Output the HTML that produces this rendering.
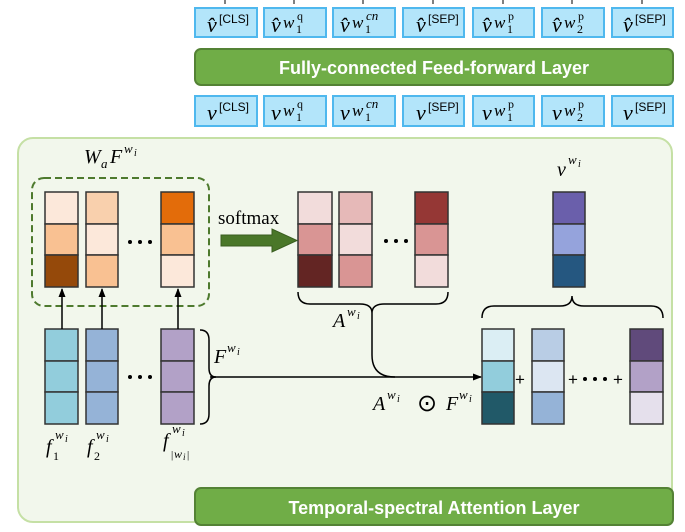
<!DOCTYPE html>
<html><head><meta charset="utf-8"><style>
body{margin:0;background:#fff}
svg{display:block}
.m{font-family:"Liberation Serif","DejaVu Serif",serif;font-style:italic;fill:#000}
.r{font-family:"Liberation Serif",serif;fill:#000}
.s{font-family:"Liberation Sans",sans-serif;fill:#000}
.b{font-family:"Liberation Sans",sans-serif;font-weight:bold;fill:#fff}
</style></head><body>
<svg width="685" height="532" viewBox="0 0 685 532" xmlns="http://www.w3.org/2000/svg">
<defs><marker id="ah" markerWidth="9" markerHeight="8" refX="8" refY="4" orient="auto" markerUnits="userSpaceOnUse"><path d="M0,0.5 L9,4 L0,7.5 z" fill="#000"/></marker></defs>
<g stroke="#000" stroke-width="1">
<line x1="225" y1="0" x2="225" y2="4"/><line x1="294" y1="0" x2="294" y2="4"/><line x1="363" y1="0" x2="363" y2="4"/><line x1="433" y1="0" x2="433" y2="4"/><line x1="503" y1="0" x2="503" y2="4"/><line x1="572" y1="0" x2="572" y2="4"/><line x1="642" y1="0" x2="642" y2="4"/>
</g>
<g fill="#b3e5fa" stroke="#4fb8ee" stroke-width="2">
<rect x="195" y="8" width="62" height="29"/><rect x="264" y="8" width="62" height="29"/><rect x="333" y="8" width="62" height="29"/><rect x="403" y="8" width="61" height="29"/><rect x="473" y="8" width="61" height="29"/><rect x="542" y="8" width="62" height="29"/><rect x="612" y="8" width="61" height="29"/>
<rect x="195" y="96" width="62" height="30"/><rect x="264" y="96" width="62" height="30"/><rect x="333" y="96" width="62" height="30"/><rect x="403" y="96" width="61" height="30"/><rect x="473" y="96" width="61" height="30"/><rect x="542" y="96" width="62" height="30"/><rect x="612" y="96" width="61" height="30"/>
</g>
<g class="m" font-size="22">
<text x="207" y="32">v&#770;</text><text x="271" y="32">v&#770;</text><text x="340" y="32">v&#770;</text><text x="416" y="32">v&#770;</text><text x="482" y="32">v&#770;</text><text x="552" y="32">v&#770;</text><text x="623" y="32">v&#770;</text>
<text x="207" y="120">v</text><text x="271" y="120">v</text><text x="340" y="120">v</text><text x="416" y="120">v</text><text x="482" y="120">v</text><text x="552" y="120">v</text><text x="623" y="120">v</text>
</g>
<g class="s" font-size="12">
<text x="219" y="23">[CLS]</text><text x="428" y="23">[SEP]</text><text x="635" y="23">[SEP]</text>
<text x="219" y="111">[CLS]</text><text x="428" y="111">[SEP]</text><text x="635" y="111">[SEP]</text>
</g>
<g class="m" font-size="17">
<text x="283" y="28">w</text><text x="352" y="28">w</text><text x="494" y="28">w</text><text x="564" y="28">w</text>
<text x="283" y="116">w</text><text x="352" y="116">w</text><text x="494" y="116">w</text><text x="564" y="116">w</text>
</g>
<g class="r" font-size="12">
<text x="296" y="33">1</text><text x="365" y="33">1</text><text x="507" y="33">1</text><text x="577" y="33">2</text>
<text x="296" y="121">1</text><text x="365" y="121">1</text><text x="507" y="121">1</text><text x="577" y="121">2</text>
<text x="297" y="20">q</text><text x="508" y="20">p</text><text x="578" y="20">p</text>
<text x="297" y="108">q</text><text x="508" y="108">p</text><text x="578" y="108">p</text>
</g>
<g class="m" font-size="13"><text x="366" y="20">cn</text><text x="366" y="108">cn</text></g>
<rect x="195" y="49" width="478" height="36" rx="6" fill="#70ad47" stroke="#548235" stroke-width="2"/>
<text x="434" y="74" class="b" font-size="18" text-anchor="middle">Fully-connected Feed-forward Layer</text>
<rect x="18" y="138" width="654" height="384" rx="15" fill="#f2f7ec" stroke="#c5e0a5" stroke-width="2"/>
<rect x="195" y="488" width="478" height="37" rx="6" fill="#70ad47" stroke="#548235" stroke-width="2"/>
<text x="434" y="514" class="b" font-size="18" text-anchor="middle">Temporal-spectral Attention Layer</text>
<rect x="32" y="178" width="177" height="128" rx="12" fill="none" stroke="#4e7a2e" stroke-width="2" stroke-dasharray="7,4"/>
<g stroke="#333" stroke-width="1.5">
<rect x="45" y="192" width="33" height="32" fill="#fce8da"/><rect x="45" y="224" width="33" height="31" fill="#f9c192"/><rect x="45" y="255" width="33" height="32" fill="#95490a"/>
<rect x="86" y="192" width="32" height="32" fill="#f9d0ad"/><rect x="86" y="224" width="32" height="31" fill="#fce8da"/><rect x="86" y="255" width="32" height="32" fill="#f9c192"/>
<rect x="161" y="192" width="33" height="32" fill="#e36c0a"/><rect x="161" y="224" width="33" height="31" fill="#f9c192"/><rect x="161" y="255" width="33" height="32" fill="#fce8da"/>
<rect x="298" y="192" width="34" height="32" fill="#f2dcdb"/><rect x="298" y="224" width="34" height="31" fill="#d99594"/><rect x="298" y="255" width="34" height="32" fill="#632523"/>
<rect x="339" y="192" width="33" height="32" fill="#e6b9b8"/><rect x="339" y="224" width="33" height="31" fill="#f2dcdb"/><rect x="339" y="255" width="33" height="32" fill="#d99594"/>
<rect x="415" y="192" width="33" height="32" fill="#953735"/><rect x="415" y="224" width="33" height="31" fill="#d99594"/><rect x="415" y="255" width="33" height="32" fill="#f2dcdb"/>
<rect x="553" y="192" width="32" height="32" fill="#6a5fab"/><rect x="553" y="224" width="32" height="31" fill="#95a3dc"/><rect x="553" y="255" width="32" height="32" fill="#255780"/>
<rect x="45" y="329" width="33" height="32" fill="#92cddc"/><rect x="45" y="361" width="33" height="31" fill="#92cddc"/><rect x="45" y="392" width="33" height="32" fill="#92cddc"/>
<rect x="86" y="329" width="32" height="32" fill="#95b3d7"/><rect x="86" y="361" width="32" height="31" fill="#95b3d7"/><rect x="86" y="392" width="32" height="32" fill="#95b3d7"/>
<rect x="161" y="329" width="33" height="32" fill="#b2a1c7"/><rect x="161" y="361" width="33" height="31" fill="#b2a1c7"/><rect x="161" y="392" width="33" height="32" fill="#b2a1c7"/>
<rect x="482" y="329" width="32" height="32" fill="#dbeef4"/><rect x="482" y="361" width="32" height="31" fill="#92cddc"/><rect x="482" y="392" width="32" height="32" fill="#215968"/>
<rect x="532" y="329" width="32" height="32" fill="#b9cde5"/><rect x="532" y="361" width="32" height="31" fill="#dce6f2"/><rect x="532" y="392" width="32" height="32" fill="#95b3d7"/>
<rect x="630" y="329" width="33" height="32" fill="#604a7b"/><rect x="630" y="361" width="33" height="31" fill="#b2a1c7"/><rect x="630" y="392" width="33" height="32" fill="#e5e0ec"/>
</g>
<g stroke="#000" stroke-width="1.5" marker-end="url(#ah)">
<line x1="62" y1="329" x2="62" y2="289"/><line x1="102" y1="329" x2="102" y2="289"/><line x1="178" y1="329" x2="178" y2="289"/>
<line x1="210" y1="377" x2="481" y2="377"/>
</g>
<g fill="none" stroke="#000" stroke-width="1.5">
<path d="M298,292 Q298,304 310,304 L360,304 Q372,304 372,313 Q372,304 384,304 L436,304 Q448,304 448,292"/>
<path d="M372,313 L372,355 Q372,377 395,377"/>
<path d="M200,330 Q209,330 209,340 L209,368 Q209,377 216,377 Q209,377 209,386 L209,414 Q209,424 200,424"/>
<path d="M482,318 Q482,306 494,306 L560,306 Q572,306 572,296 Q572,306 584,306 L651,306 Q663,306 663,318"/>
</g>
<text x="218" y="224" class="r" font-size="19">softmax</text>
<polygon points="221,235 272,235 272,229 297,240.5 272,252 272,246 221,246" fill="#4a7729" stroke="#3a5e20" stroke-width="1"/>
<g fill="#000"><circle cx="130" cy="242" r="2"/><circle cx="140" cy="242" r="2"/><circle cx="150" cy="242" r="2"/>
<circle cx="386" cy="241" r="2"/><circle cx="396" cy="241" r="2"/><circle cx="406" cy="241" r="2"/>
<circle cx="130" cy="377" r="2"/><circle cx="140" cy="377" r="2"/><circle cx="150" cy="377" r="2"/>
<circle cx="585" cy="379" r="2"/><circle cx="595" cy="379" r="2"/><circle cx="605" cy="379" r="2"/></g>
<g class="s" font-size="17"><text x="515" y="385">+</text><text x="568" y="385">+</text><text x="613" y="385">+</text></g>
<g class="m">
<text x="84" y="163" font-size="20">W</text><text x="101" y="168" font-size="13">a</text><text x="110" y="163" font-size="20">F</text><text x="124" y="153" font-size="13">w</text><text x="134" y="156" font-size="10">i</text>
<text x="333" y="327" font-size="20">A</text><text x="347" y="316" font-size="13">w</text><text x="357" y="319" font-size="10">i</text>
<text x="214" y="363" font-size="20">F</text><text x="227" y="352" font-size="13">w</text><text x="237" y="355" font-size="10">i</text>
<text x="373" y="410" font-size="20">A</text><text x="387" y="399" font-size="13">w</text><text x="397" y="402" font-size="10">i</text>
<text x="446" y="410" font-size="20">F</text><text x="459" y="399" font-size="13">w</text><text x="469" y="402" font-size="10">i</text>
<text x="557" y="176" font-size="20">v</text><text x="568" y="164" font-size="13">w</text><text x="578" y="167" font-size="10">i</text>
<text x="46" y="453" font-size="20">f</text><text x="55" y="439" font-size="13">w</text><text x="65" y="442" font-size="10">i</text>
<text x="87" y="453" font-size="20">f</text><text x="96" y="439" font-size="13">w</text><text x="106" y="442" font-size="10">i</text>
<text x="163" y="447" font-size="20">f</text><text x="172" y="433" font-size="13">w</text><text x="182" y="436" font-size="10">i</text>
<text x="171" y="458" font-size="11" style="font-style:normal">|</text><text x="174" y="458" font-size="12">w</text><text x="183" y="460" font-size="9">i</text><text x="187" y="458" font-size="11" style="font-style:normal">|</text>
</g>
<g class="r" font-size="12"><text x="53" y="460">1</text><text x="94" y="460">2</text></g>
<text x="417" y="411" class="r" font-size="24">&#8857;</text>
</svg>
</body></html>
